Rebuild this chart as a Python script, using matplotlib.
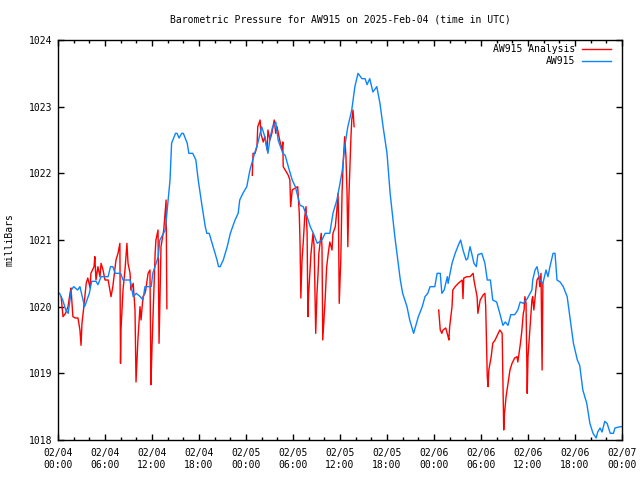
import numpy as np
import matplotlib
matplotlib.use("Agg")
import matplotlib.pyplot as plt
from matplotlib.ticker import MultipleLocator

# AW915 station pressure, hours since 02/04 00:00 UTC
hours_obs = [0.0, 0.2, 0.6, 1.0, 1.3, 1.7, 2.0, 2.5, 2.8, 3.4, 4.0, 4.3, 4.85, 5.1, 5.5, 6.4,
             6.7, 7.0, 7.3, 8.0, 8.3, 9.2, 9.6, 10.0, 10.5, 10.85, 11.1, 11.9, 12.1, 12.8,
             13.0, 13.7, 14.3, 14.5, 15.0, 15.2, 15.45, 15.8, 16.0, 16.5, 16.7, 17.2, 17.6,
             17.9, 18.4, 18.8, 19.0, 19.3, 19.8, 20.3, 20.5, 20.7, 21.1, 21.6, 22.0, 22.6,
             23.0, 23.2, 23.6, 24.1, 24.5, 25.1, 25.5, 26.0, 26.4, 26.8, 27.1, 27.4, 27.8,
             28.1, 28.7, 29.0, 29.4, 29.9, 30.3, 30.9, 31.3, 31.8, 32.2, 32.6, 33.1, 33.7,
             34.1, 34.7, 35.1, 35.6, 36.0, 36.3, 36.6, 37.0, 37.5, 37.9, 38.3, 38.8, 39.2,
             39.45, 39.8, 40.2, 40.7, 41.1, 41.5, 42.0, 42.4, 43.0, 43.7, 44.0, 44.55, 44.9,
             45.4, 46.0, 46.5, 46.85, 47.2, 47.5, 48.1, 48.4, 48.8, 49.0, 49.3, 49.7, 49.8,
             50.3, 50.7, 51.1, 51.4, 51.7, 52.1, 52.3, 52.6, 52.85, 53.1, 53.4, 53.6, 54.1,
             54.5, 54.8, 55.2, 55.5, 56.0, 56.4, 56.8, 57.1, 57.45, 57.8, 58.3, 58.7, 59.0,
             59.4, 59.9, 60.5, 60.6, 60.9, 61.15, 61.5, 61.9, 62.3, 62.55, 62.8, 63.2, 63.45,
             63.7, 64.1, 64.5, 65.0, 65.4, 65.8, 66.3, 66.6, 67.0, 67.5, 67.9, 68.3, 68.7,
             68.9, 69.2, 69.45, 69.8, 70.1, 70.5, 70.9, 71.1, 71.8, 72.0]
pres_obs = [1020.2, 1020.2, 1020.1, 1019.95, 1019.9, 1020.25, 1020.3, 1020.25, 1020.3, 1020.0,
            1020.2, 1020.38, 1020.38, 1020.33, 1020.45, 1020.45, 1020.6, 1020.6, 1020.5, 1020.5,
            1020.4, 1020.4, 1020.15, 1020.2, 1020.15, 1020.1, 1020.3, 1020.3, 1020.5, 1020.75,
            1021.0, 1021.15, 1021.9, 1022.45, 1022.6, 1022.6, 1022.53, 1022.6, 1022.6, 1022.45,
            1022.3, 1022.3, 1022.2, 1021.9, 1021.5, 1021.2, 1021.1, 1021.1, 1020.9, 1020.7,
            1020.6, 1020.6, 1020.7, 1020.9, 1021.1, 1021.3, 1021.4, 1021.6, 1021.7, 1021.8,
            1022.05, 1022.3, 1022.45, 1022.7, 1022.55, 1022.3, 1022.55, 1022.7, 1022.77, 1022.5,
            1022.3, 1022.27, 1022.1, 1021.9, 1021.8, 1021.52, 1021.5, 1021.35, 1021.2, 1021.1,
            1020.95, 1021.0, 1021.1, 1021.1, 1021.4, 1021.6, 1021.85, 1022.05, 1022.4, 1022.7,
            1022.95, 1023.3, 1023.5, 1023.42, 1023.42, 1023.33, 1023.42, 1023.22, 1023.3, 1023.05,
            1022.7, 1022.3, 1021.7, 1021.05, 1020.4, 1020.2, 1020.0, 1019.8, 1019.6, 1019.85,
            1020.0, 1020.15, 1020.2, 1020.3, 1020.3, 1020.5, 1020.5, 1020.2, 1020.25, 1020.45,
            1020.35, 1020.65, 1020.8, 1020.92, 1021.0, 1020.85, 1020.7, 1020.72, 1020.9, 1020.78,
            1020.65, 1020.6, 1020.78, 1020.8, 1020.65, 1020.4, 1020.4, 1020.1, 1020.07, 1019.9,
            1019.72, 1019.77, 1019.72, 1019.88, 1019.88, 1019.95, 1020.07, 1020.05, 1020.12, 1020.25,
            1020.4, 1020.55, 1020.6, 1020.4, 1020.35, 1020.55, 1020.45, 1020.6, 1020.8, 1020.8,
            1020.4, 1020.37, 1020.3, 1020.15, 1019.8, 1019.45, 1019.2, 1019.12, 1018.75, 1018.55,
            1018.25, 1018.1, 1018.03, 1018.12, 1018.18, 1018.12, 1018.28, 1018.25, 1018.1, 1018.1,
            1018.18, 1018.2, 1018.2]

# analysis series, NaN marks the gaps
hours_ana = [0.4, 0.64, 0.96, 1.28, 1.53, 1.66, 1.9, 2.2, 2.55, 2.8, 2.94, 3.06, 3.3, 3.6, 3.8,
             4.1, 4.2, 4.6, 4.7, 4.85, 5.1, 5.36, 5.5, 5.75, 6.0, 6.4, 6.77, 7.0, 7.4, 7.66,
             7.9, 7.98, 8.04, 8.3, 8.55, 8.7, 8.8, 8.94, 9.2, 9.3, 9.6, 9.83, 9.96, 10.2, 10.47,
             10.6, 10.85, 11.1, 11.2, 11.5, 11.74, 11.87, 12.0, 12.4, 12.5, 12.77, 12.9, 13.15,
             13.5, 13.8, 13.9, 19.0,
             24.8, 24.9, 25.15, 25.4, 25.5, 25.8, 25.9, 26.2, 26.4, 26.7, 26.8, 27.06, 27.3,
             27.6, 27.8, 27.96, 28.3, 28.6, 28.7, 28.75, 29.0, 29.4, 29.6, 29.7, 29.9, 30.3,
             30.6, 30.8, 30.9, 31.0, 31.15, 31.3, 31.5, 31.66, 31.8, 31.9, 32.0, 32.3, 32.55,
             32.7, 32.9, 33.06, 33.2, 33.3, 33.6, 33.7, 33.8, 34.1, 34.3, 34.5, 34.7, 34.98,
             35.1, 35.4, 35.6, 35.75, 35.8, 35.9, 36.1, 36.26, 36.4, 36.6, 36.76, 36.9, 37.0,
             37.15, 37.4, 37.5, 37.66, 37.8, 43.0,
             48.6, 48.8, 49.0, 49.15, 49.5, 49.8, 49.9, 50.0, 50.3, 50.4, 50.7, 51.1, 51.6,
             51.7, 51.8, 52.2, 52.6, 53.0, 53.1, 53.5, 53.6, 53.9, 54.3, 54.5, 54.6, 54.8,
             54.9, 55.0, 55.3, 55.5, 55.8, 56.0, 56.4, 56.7, 56.8, 56.9, 57.0, 57.2, 57.45,
             57.7, 57.96, 58.3, 58.6, 58.7, 59.0, 59.2, 59.4, 59.5, 59.6, 59.75, 59.9, 60.0,
             60.3, 60.5, 60.6, 60.75, 61.0, 61.15, 61.4, 61.5, 61.66, 61.8, 61.9]
pres_ana = [1020.15, 1019.85, 1019.9, 1020.0, 1020.2, 1020.28, 1019.85, 1019.83, 1019.83, 1019.65,
            1019.42, 1019.75, 1020.0, 1020.35, 1020.43, 1020.28, 1020.5, 1020.6, 1020.75, 1020.4,
            1020.6, 1020.45, 1020.65, 1020.55, 1020.4, 1020.4, 1020.15, 1020.3, 1020.7, 1020.8,
            1020.95, 1019.15, 1019.65, 1020.25, 1020.55, 1020.8, 1020.95, 1020.65, 1020.5, 1020.25,
            1020.35, 1019.95, 1018.87, 1019.5, 1020.0, 1019.8, 1020.15, 1020.2, 1020.25, 1020.5,
            1020.55, 1018.83, 1019.4, 1020.8, 1021.0, 1021.15, 1019.45, 1020.9, 1021.15, 1021.6,
            1019.97, np.nan,
            1021.97, 1022.3, 1022.3, 1022.4, 1022.7, 1022.8, 1022.6, 1022.47, 1022.55, 1022.35,
            1022.65, 1022.5, 1022.6, 1022.8, 1022.6, 1022.7, 1022.5, 1022.35, 1022.47, 1022.1,
            1022.05, 1021.97, 1021.9, 1021.5, 1021.75, 1021.78, 1021.8, 1021.4, 1020.95, 1020.13,
            1020.7, 1020.95, 1021.35, 1021.5, 1021.1, 1019.85, 1020.2, 1020.8, 1021.1, 1020.9,
            1019.6, 1020.2, 1020.5, 1020.8, 1021.1, 1020.9, 1019.5, 1020.1, 1020.6, 1020.8,
            1020.97, 1020.85, 1021.1, 1021.2, 1021.45, 1021.7, 1021.4, 1020.05, 1020.7, 1021.7,
            1022.15, 1022.55, 1022.25, 1021.7, 1020.9, 1021.7, 1022.55, 1022.8, 1022.95, 1022.7,
            np.nan,
            1019.95, 1019.65, 1019.6, 1019.65, 1019.68, 1019.55, 1019.5, 1019.7, 1020.0, 1020.25,
            1020.3, 1020.35, 1020.4, 1020.12, 1020.43, 1020.45, 1020.45, 1020.5, 1020.4, 1020.15,
            1019.9, 1020.1, 1020.18, 1020.2, 1020.0, 1018.95, 1018.8, 1019.05, 1019.25, 1019.45,
            1019.5, 1019.55, 1019.65, 1019.6, 1018.85, 1018.15, 1018.4, 1018.65, 1018.85, 1019.05,
            1019.15, 1019.23, 1019.25, 1019.17, 1019.42, 1019.62, 1019.9, 1019.95, 1020.15, 1020.05,
            1018.7, 1019.25, 1019.75, 1020.1, 1020.15, 1019.95, 1020.25, 1020.4, 1020.45, 1020.3,
            1020.5, 1019.05, 1020.35]

xlabels = ["02/04\n00:00", "02/04\n06:00", "02/04\n12:00", "02/04\n18:00",
           "02/05\n00:00", "02/05\n06:00", "02/05\n12:00", "02/05\n18:00",
           "02/06\n00:00", "02/06\n06:00", "02/06\n12:00", "02/06\n18:00",
           "02/07\n00:00"]

font = "DejaVu Sans Mono"
fs = 7

fig = plt.figure(figsize=(6.4, 4.8), dpi=100)
ax = fig.add_axes([58/640, 40/480, 564/640, 400/480])

ax.plot(hours_ana, pres_ana, color="#ff0000", lw=1.0, label="AW915 Analysis")
ax.plot(hours_obs, pres_obs, color="#0a84ff", lw=1.0, label="AW915")

ax.set_xlim(0, 72)
ax.set_ylim(1018, 1024)
ax.set_xticks(np.arange(0, 73, 6))
ax.set_xticklabels(xlabels)
ax.xaxis.set_minor_locator(MultipleLocator(2))
ax.set_yticks(np.arange(1018, 1025, 1))
ax.tick_params(which="both", direction="in", top=True, right=True, width=1)
ax.tick_params(which="major", length=4)
ax.tick_params(which="minor", length=2)
ax.tick_params(axis="x", pad=6)
ax.tick_params(axis="y", pad=4)
for lab in ax.get_xticklabels() + ax.get_yticklabels():
    lab.set_fontfamily(font)
    lab.set_fontsize(fs)
for s in ax.spines.values():
    s.set_linewidth(1)

fig.text(340/640, 1 - 20/480, "Barometric Pressure for AW915 on 2025-Feb-04 (time in UTC)",
         ha="center", va="center", family=font, fontsize=fs)
fig.text(10/640, 0.5, "milliBars", rotation=90, ha="center", va="center",
         family=font, fontsize=fs)

leg = ax.legend(loc="upper right", bbox_to_anchor=(611/640, 1 - 44/480),
                bbox_transform=fig.transFigure, frameon=False, markerfirst=False,
                handlelength=3.0, handletextpad=0.7, labelspacing=0.2,
                borderpad=0, borderaxespad=0, prop={"family": font, "size": fs})
for t in leg.get_texts():
    t.set_ha("right")

fig.savefig("out.png", dpi=100)
